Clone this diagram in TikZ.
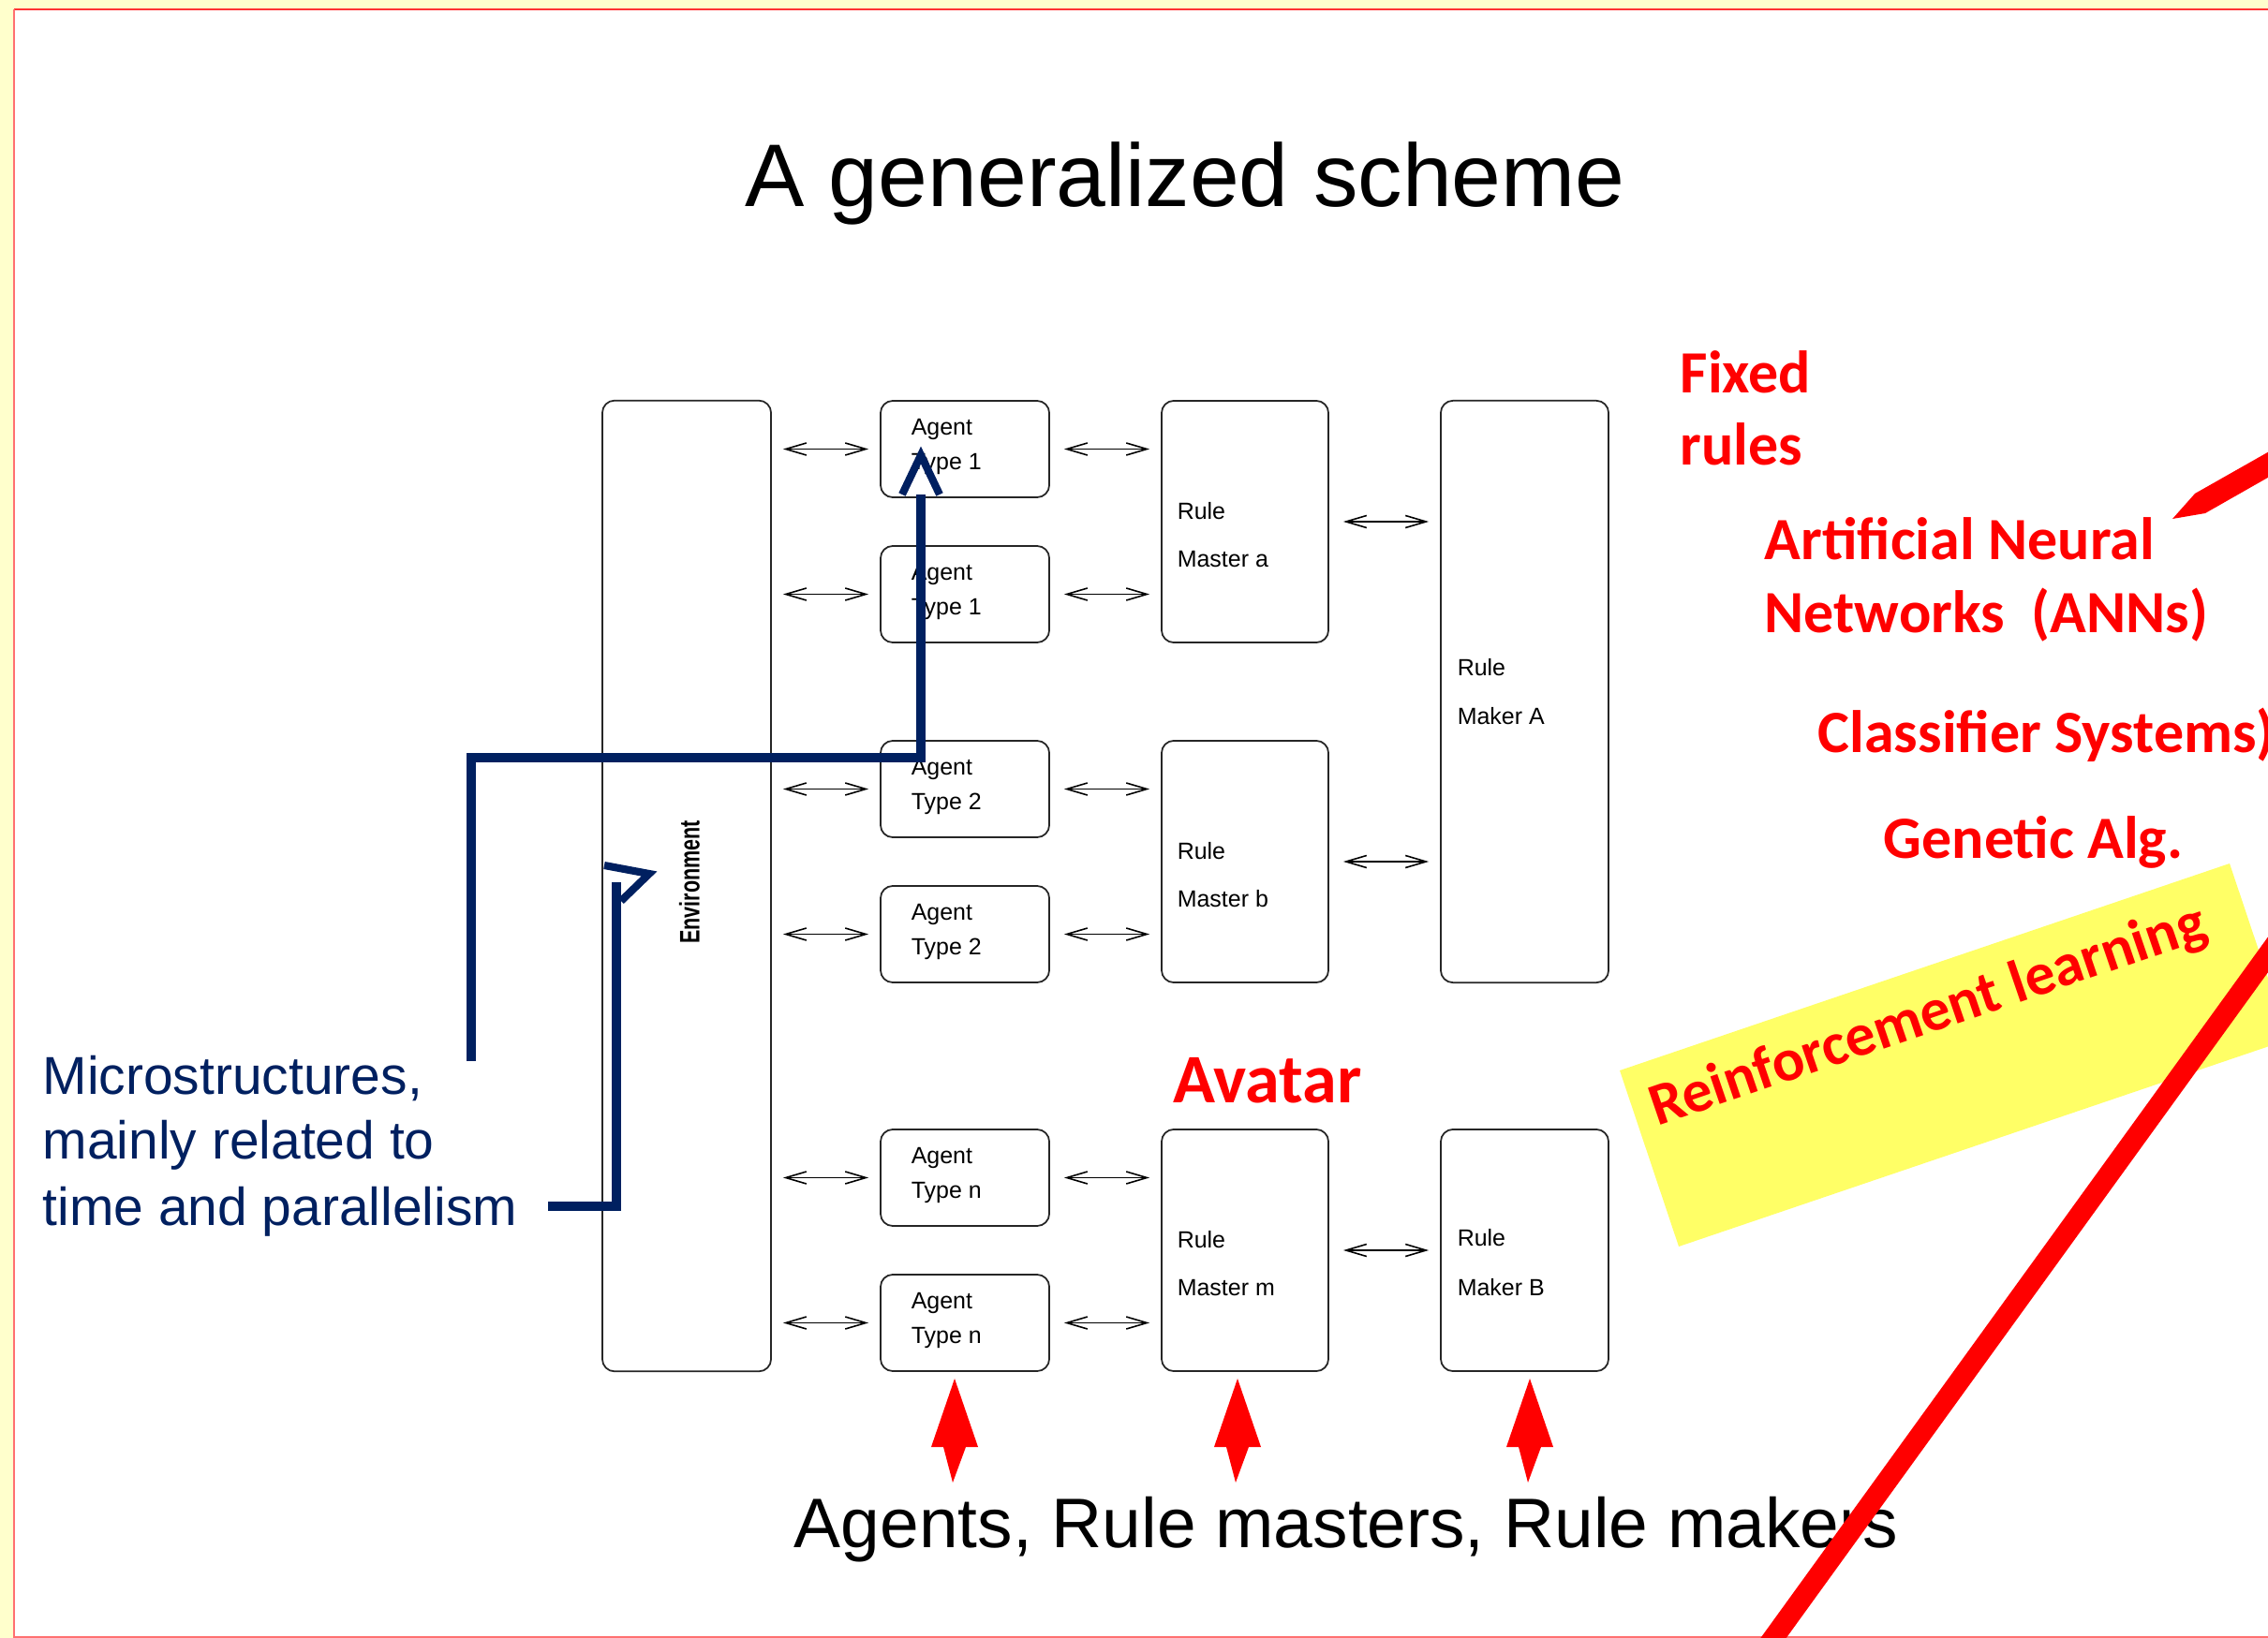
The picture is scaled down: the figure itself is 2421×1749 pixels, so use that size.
\documentclass[tikz,border=0pt]{standalone}
\usepackage{fontspec}
\setmainfont{Liberation Sans}
\newfontfamily\calib{Carlito}
\usetikzlibrary{arrows.meta,calc}
\definecolor{slideyellow}{HTML}{FFFFCC}
\definecolor{navy}{HTML}{002060}
\definecolor{hiyellow}{HTML}{FFFF66}
\definecolor{edgered}{HTML}{FF3333}
\definecolor{edgepink}{HTML}{FF7070}
\newcommand\fsz[1]{\fontsize{#1}{#1}\selectfont}
\begin{document}
\begin{tikzpicture}[x=0.01cm,y=-0.01cm,
  box/.style={draw=black!85, line width=0.5pt, rounded corners=0.13cm, inner sep=0pt},
  lbl/.style={anchor=base west, inner sep=0pt, font=\fsz{7.1pt}},
  dbl/.style={line width=0.45pt,
    {Straight Barb[length=0.22cm,width=0.13cm]}-{Straight Barb[length=0.22cm,width=0.13cm]},
    shorten <=0.12cm, shorten >=0.12cm},
  navyline/.style={draw=navy, line width=2.85pt},
  chevron/.style={draw=navy, line width=2.3pt},
  bluetxt/.style={anchor=base west, inner sep=0pt, text=navy, font=\fsz{16.2pt}},
  redtxt/.style={anchor=base west, inner sep=0pt, text=red, font=\calib\bfseries\fsz{18.2pt}},
  bigarrow/.style={fill=red}
]
\useasboundingbox (0,0) rectangle (2421,1749);
\clip (0,0) rectangle (2421,1749);

% slide background and frame
\fill[slideyellow] (0,0) rectangle (2421,1749);
\fill[white] (15,10) rectangle (2430,1760);
\draw[edgered, line width=0.5pt] (15,10) -- (2430,10);
\draw[edgepink, line width=0.45pt] (15,10) -- (15,1760);
\draw[edgepink, line width=0.45pt] (15,1748) -- (2430,1748);

% title
\node[anchor=base, inner sep=0pt, font=\fsz{27pt}] (title) at (1265,221) {A generalized scheme};

% environment column
\node[box, minimum width=1.8cm, minimum height=10.36cm] (env) at (733,946) {};
\node[rotate=90, inner sep=0pt, font=\bfseries\fsz{8.5pt}] (envt) at (736,942)
  {\scalebox{0.72}[1]{Environment}};

% agents
\foreach \n/\y in {a1/479.5, a2/634.5, a3/842.5, a4/997.5, a5/1257.5, a6/1412.5}
  \node[box, minimum width=1.8cm, minimum height=1.03cm] (\n) at (1030,\y) {};
\foreach \n/\k in {a1/1, a2/1, a3/2, a4/2, a5/n, a6/n} {
  \node[lbl] (\n-l1) at ($(\n.north west)+(33,37)$) {Agent};
  \node[lbl] (\n-l2) at ($(\n.north west)+(33,74)$) {Type \k};
}

% rule masters
\node[box, minimum width=1.78cm, minimum height=2.58cm] (ma) at (1329,557) {};
\node[box, minimum width=1.78cm, minimum height=2.58cm] (mb) at (1329,920) {};
\node[box, minimum width=1.78cm, minimum height=2.58cm] (mm) at (1329,1335) {};
\foreach \n/\k in {ma/a, mb/b, mm/m} {
  \node[lbl] (\n-l1) at ($(\n.north west)+(17,127)$) {Rule};
  \node[lbl] (\n-l2) at ($(\n.north west)+(17,178)$) {Master \k};
}

% rule makers
\node[box, minimum width=1.79cm, minimum height=6.21cm] (mkA) at (1627.5,738.5) {};
\node[box, minimum width=1.79cm, minimum height=2.58cm] (mkB) at (1627.5,1335) {};
\node[lbl] (mkA-l1) at ($(mkA.north west)+(18,295)$) {Rule};
\node[lbl] (mkA-l2) at ($(mkA.north west)+(18,347)$) {Maker A};
\node[lbl] (mkB-l1) at ($(mkB.north west)+(18,125)$) {Rule};
\node[lbl] (mkB-l2) at ($(mkB.north west)+(18,178)$) {Maker B};

% exchanges between columns
\foreach \n in {a1,a2,a3,a4,a5,a6}
  \draw[dbl] (env.east |- \n.west) -- (\n.west);
\foreach \n/\m in {a1/ma, a2/ma, a3/mb, a4/mb, a5/mm, a6/mm}
  \draw[dbl, shorten <=0.15cm] (\n.east) -- (\m.west |- \n.east);
\draw[dbl, shorten <=0.15cm] (ma.east) -- (mkA.west |- ma.east);
\draw[dbl, shorten <=0.15cm] (mb.east) -- (mkA.west |- mb.east);
\draw[dbl, shorten <=0.15cm] (mm.east) -- (mkB.west);

% note on microstructures
\node[bluetxt] (micro1) at (45,1168) {Microstructures,};
\node[bluetxt] (micro2) at (45,1237) {mainly related to};
\node[bluetxt] (micro3) at (45,1308) {time and parallelism};

\coordinate (m1s) at (503,1133);
\coordinate (m1c) at (983,809);
\coordinate (a1tip) at (983,486);
\draw[navyline] (m1s) |- (m1c) -- ($(a1tip)+(0,42)$);
\draw[chevron] ($(a1tip)+(-20,42)$) -- (a1tip) -- ($(a1tip)+(20,42)$);

\coordinate (m2s) at (585,1288);
\coordinate (m2e) at (658,942);
\coordinate (envtip) at (693,933);
\draw[navyline] (m2s) -| (m2e);
\draw[chevron] (645,924) -- (envtip) -- (663,962);

% learning methods
\node[redtxt] (fixed1) at (1793,420) {Fixed};
\node[redtxt] (fixed2) at (1793,497) {rules};
\node[redtxt] (ann1) at (1883,597) {Artificial Neural};
\node[redtxt] (ann2) at (1883,675) {Networks\ \ (ANNs)};
\node[redtxt] (cls) at (1940,803) {Classifier Systems)};
\node[redtxt] (gen) at (2010,916) {Genetic Alg.};
\node[redtxt, font=\calib\bfseries\fsz{21.1pt}] (avatar) at (1252,1177) {Avatar};

\fill[hiyellow] (1729,1143) -- (2380,922) -- (2443,1110) -- (1792,1331) -- cycle;
\node[anchor=base, inner sep=0pt, rotate=18.86, text=red, font=\calib\bfseries\fsz{18.2pt}]
  (reinf) at (2064,1102) {Reinforcement learning};

% bottom caption with pointers
\node[anchor=base, inner sep=0pt, font=\fsz{21.3pt}] (caption) at (1437,1652)
  {Agents, Rule masters, Rule makers};
\foreach \c/\nm in {1019/p1, 1321/p2, 1633/p3}
  \fill[bigarrow] (\c,1472) -- (\c+25,1545) -- (\c+12,1545) -- (\c-2,1583)
    -- (\c-12,1545) -- (\c-25,1545) -- cycle;

% red strokes
\fill[red] (2440,472) -- (2343,527) -- (2319,554) -- (2354,548) -- (2440,499) -- cycle;
\draw[red, line width=6.3pt] (1880,1767) -- (2440,993);
\end{tikzpicture}
\end{document}
